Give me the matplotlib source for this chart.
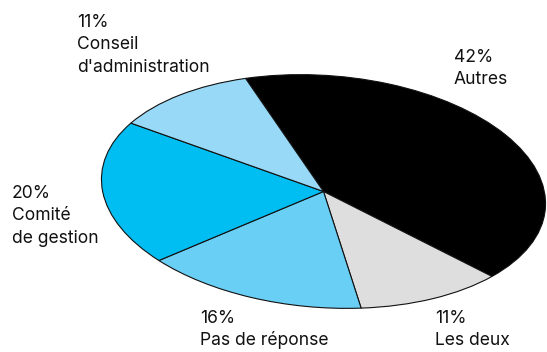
import matplotlib
matplotlib.use("Agg")
from matplotlib import pyplot as plt
from matplotlib.transforms import Affine2D

labels = ["Autres", "Les deux", "Pas de réponse", "Comité\nde gestion", "Conseil\nd'administration"]
shares = [42, 11, 16, 20, 11]
colors = ["#000000", "#DEDEDE", "#69CFF5", "#00BDF2", "#98D9F7"]

# left edge and first baseline of each label block (figure pixels, from top)
label_xy = [(454, 62), (435, 323), (200, 323), (12, 198), (77, 27)]

W, H = 547, 352
fig = plt.figure(figsize=(W / 100, H / 100), dpi=100)
ax = fig.add_axes([0, 0, 1, 1])

wedges, _ = ax.pie(shares, colors=colors, startangle=112.8, counterclock=False,
                   radius=1, center=(0, 0),
                   wedgeprops=dict(edgecolor="#111111", linewidth=0.8))

# pixel coordinates, y up; squash the unit pie into a slightly tilted ellipse
ax.set_aspect("auto")
ax.set_xlim(0, W)
ax.set_ylim(0, H)
ax.axis("off")
cx, cy, rx, ry, tilt = 323.5, 191.5, 222.5, 116, -4.3
squash = Affine2D().scale(rx, ry).rotate_deg(tilt).translate(cx, H - cy)
for w in wedges:
    w.set_transform(squash + ax.transData)

line_gap = 22.3
for lab, val, (x, y) in zip(labels, shares, label_xy):
    lines = [f"{val}%"] + lab.split("\n")
    for i, txt in enumerate(lines):
        ax.text(x, H - y - i * line_gap, txt, ha="left", va="baseline",
                fontsize=12.6, family="Inter", color="#111111")

fig.savefig("out.png", dpi=100)
